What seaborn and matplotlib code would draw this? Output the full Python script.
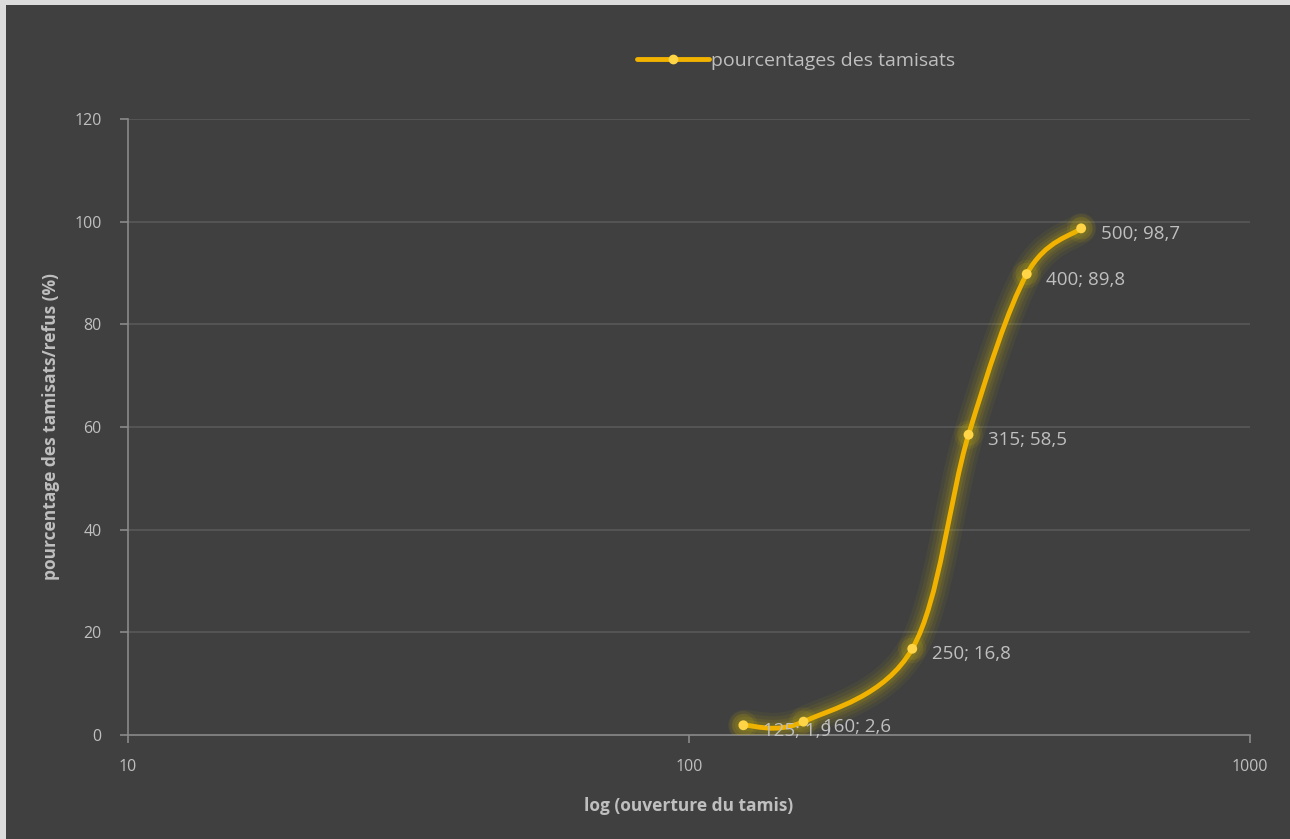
import numpy as np
import pandas as pd
import matplotlib
matplotlib.use("Agg")
import matplotlib.pyplot as plt
from matplotlib.path import Path
from matplotlib.patches import PathPatch, Rectangle
from matplotlib.lines import Line2D
import seaborn as sns

# ---- data ----
ouverture = [125, 160, 250, 315, 400, 500]
tamisats = [1.9, 2.6, 16.8, 58.5, 89.8, 98.7]
labels = ["125; 1,9", "160; 2,6", "250; 16,8", "315; 58,5", "400; 89,8", "500; 98,7"]
series_name = "pourcentages des tamisats"
y_ticks = [0, 20, 40, 60, 80, 100, 120]
x_ticks = [10, 100, 1000]

df = pd.DataFrame({"x": ouverture, "y": tamisats})

BG = "#404040"
TXT = "#bfbfbf"
GRID = "#595959"
AX = "#8a8a8a"
LINE = "#F2B200"
MARK = "#FFD447"
GLOW = "#D8C000"

sns.set_theme(style="dark")
plt.rcParams["font.family"] = ["Open Sans", "DejaVu Sans"]

fig = plt.figure(figsize=(12.9, 8.39), dpi=100, facecolor=BG)
# light frame on top and left edges
fig.patches.append(Rectangle((0, 0), 6 / 1290, 1, transform=fig.transFigure,
                             facecolor="#dcdcdc", edgecolor="none", zorder=10))
fig.patches.append(Rectangle((0, 1 - 5 / 839), 1, 5 / 839, transform=fig.transFigure,
                             facecolor="#dcdcdc", edgecolor="none", zorder=10))

ax = fig.add_axes([128 / 1290, 1 - 735 / 839, (1250 - 128) / 1290, (735 - 119) / 839])
ax.set_facecolor(BG)
ax.set_xscale("log")
ax.set_xlim(10, 1000)
ax.set_ylim(0, 120)

# smoothed line (Excel-like Catmull-Rom Bezier in log-x space)
lx = np.log10(np.array(ouverture, dtype=float))
yy = np.array(tamisats, dtype=float)
n = len(lx)
verts = [(ouverture[0], tamisats[0])]
codes = [Path.MOVETO]
for i in range(n - 1):
    p0 = np.array([lx[max(i - 1, 0)], yy[max(i - 1, 0)]])
    p1 = np.array([lx[i], yy[i]])
    p2 = np.array([lx[i + 1], yy[i + 1]])
    p3 = np.array([lx[min(i + 2, n - 1)], yy[min(i + 2, n - 1)]])
    c1 = p1 + (p2 - p0) / 6
    c2 = p2 - (p3 - p1) / 6
    for c in (c1, c2, p2):
        verts.append((10 ** c[0], c[1]))
    codes += [Path.CURVE4] * 3
path = Path(verts, codes)

for lw, a in [(22, 0.06), (17, 0.07), (12, 0.09), (8, 0.12)]:
    ax.add_patch(PathPatch(path, facecolor="none", edgecolor=GLOW, linewidth=lw,
                           alpha=a, capstyle="round", joinstyle="round", zorder=3))
ax.add_patch(PathPatch(path, facecolor="none", edgecolor=LINE, linewidth=3.5,
                       capstyle="round", zorder=4))

for s, a in [(420, 0.08), (260, 0.12)]:
    sns.scatterplot(data=df, x="x", y="y", ax=ax, s=s, color=GLOW, alpha=a,
                    edgecolor="none", zorder=5, legend=False)
sns.scatterplot(data=df, x="x", y="y", ax=ax, s=50, color=MARK, edgecolor="none",
                zorder=6, legend=False)

for x, y, t in zip(ouverture, tamisats, labels):
    ax.annotate(t, (x, y), xytext=(14, -4), textcoords="offset points", ha="left",
                va="center", color=TXT, fontsize=13.5, zorder=7)

# grid and axes
ax.set_yticks(y_ticks)
ax.set_xticks(x_ticks)
ax.set_xticklabels([str(v) for v in x_ticks])
ax.xaxis.set_minor_locator(matplotlib.ticker.NullLocator())
ax.grid(False)
for v in y_ticks[1:]:
    ax.axhline(v, color=GRID, linewidth=1.2, zorder=1)
for s in ["top", "right"]:
    ax.spines[s].set_visible(False)
for s in ["left", "bottom"]:
    ax.spines[s].set_visible(True)
    ax.spines[s].set_color(AX)
    ax.spines[s].set_linewidth(1.2)
ax.tick_params(axis="both", colors=TXT, labelsize=11.5, length=6, width=1.2,
               direction="out", bottom=True, left=True)
ax.tick_params(axis="x", color=AX, pad=11)
ax.tick_params(axis="y", color=AX, pad=13)

ax.set_xlabel("log (ouverture du tamis)", color=TXT, fontsize=12.5, fontweight="bold", labelpad=16)
ax.set_ylabel("pourcentage des tamisats/refus (%)", color=TXT, fontsize=12.5, fontweight="bold", labelpad=10)

handle = Line2D([0], [0], color=LINE, linewidth=3.5, marker="o", markersize=6,
                markerfacecolor=MARK, markeredgecolor=MARK)
leg = fig.legend([handle], [series_name], loc="center", bbox_to_anchor=(796 / 1290, 1 - 61 / 839),
                 frameon=False, fontsize=14, handlelength=3.7, handletextpad=0.1)
for t in leg.get_texts():
    t.set_color(TXT)

fig.savefig("out.png", dpi=100, facecolor=BG)
